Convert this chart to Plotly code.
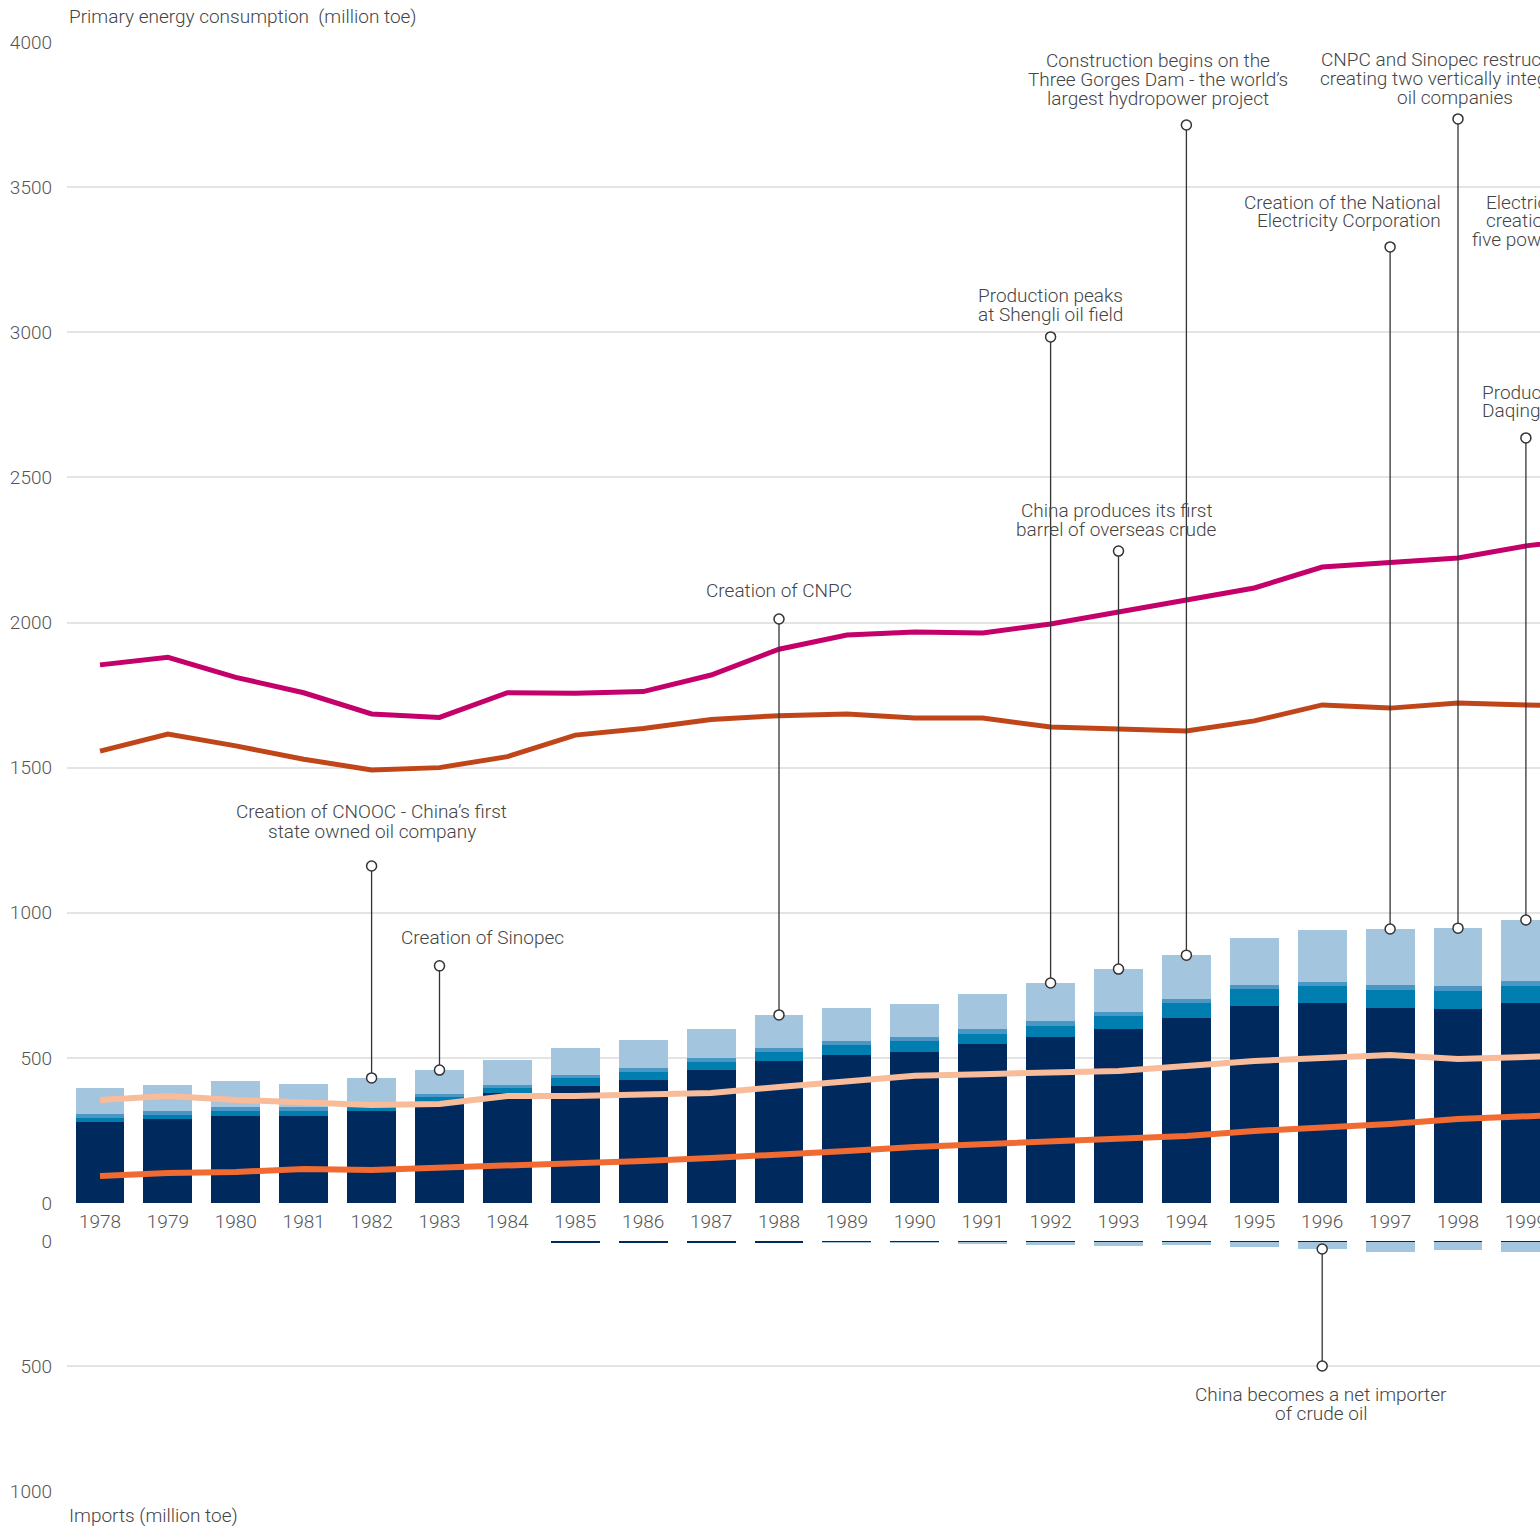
import plotly.graph_objects as go

# ---------------- data ----------------
years = list(range(1978, 2000))
coal = [279, 289, 300, 300, 317, 345, 379, 403, 424, 458, 489, 510, 520, 548, 573, 599, 637, 679, 689, 672, 668, 689]
hydro = [14, 14, 17, 17, 17, 20, 17, 28, 27, 28, 31, 34, 38, 34, 37, 45, 52, 58, 59, 62, 62, 59]
gas = [14, 14, 14, 14, 14, 11, 11, 10, 14, 14, 14, 14, 14, 17, 17, 14, 14, 14, 13, 17, 17, 17]
oil = [89, 90, 89, 79, 83, 82, 86, 93, 97, 100, 114, 114, 114, 121, 131, 148, 151, 162, 180, 193, 200, 210]

line_years = list(range(1978, 2001))
line_magenta = [1854, 1880, 1811, 1758, 1685, 1673, 1758, 1756, 1762, 1819, 1908, 1957, 1967, 1964, 1995, 2036, 2074, 2119, 2191, 2205, 2222, 2264, 2290]
line_rust = [1557, 1616, 1575, 1529, 1492, 1500, 1538, 1612, 1635, 1666, 1679, 1685, 1671, 1671, 1640, 1633, 1626, 1661, 1716, 1705, 1723, 1716, 1712]
line_peach = [355, 369, 355, 348, 338, 341, 369, 369, 372, 379, 400, 417, 438, 444, 451, 455, 472, 489, 500, 510, 496, 506, 510]
line_orange = [93, 103, 107, 117, 114, 121, 127, 134, 145, 155, 165, 179, 193, 203, 214, 220, 231, 248, 258, 272, 289, 300, 308]

imp_coal = [0, 0, 0, 0, 0, 0, 0, 5, 5, 5, 5, 5, 5, 5, 5, 5, 5, 5, 5, 5, 5, 5]
imp_oil = [0, 0, 0, 0, 0, 0, 0, 0, 0, 0, 0, 3, 3, 6, 11, 14, 11, 19, 27, 37, 31, 39]

top_ticks = [0, 500, 1000, 1500, 2000, 2500, 3000, 3500, 4000]
bottom_ticks = [0, 500, 1000]

# events: year, height of the upper pin end (in axis units), text lines
events = [
    (1982, 1161, ["Creation of CNOOC - China’s first", "state owned oil company"]),
    (1983, 817, ["Creation of Sinopec"]),
    (1988, 2012, ["Creation of CNPC"]),
    (1992, 2984, ["Production peaks", "at Shengli oil field"]),
    (1993, 2246, ["China produces its first", "barrel of overseas crude"]),
    (1994, 3714, ["Construction begins on the", "Three Gorges Dam - the world’s", "largest hydropower project"]),
    (1997, 3294, ["Creation of the National", "Electricity Corporation"]),
    (1998, 3735, ["CNPC and Sinopec restructuring", "creating two vertically integrated", "oil companies"]),
    (1999, 2636, ["Production peaks at", "Daqing oil field"]),
]
import_event = (1996, 500, ["China becomes a net importer", "of crude oil"])

# ---------------- styles / layout constants ----------------
W, H = 1540, 1526
L = 67
FONT = "Roboto"
TXT = "#444444"
GRID = "#e4e4e4"
C_COAL, C_HYDRO, C_GAS, C_OIL = "#00295e", "#007eb0", "#4a96c4", "#a3c5de"

# label placement: (x anchor, x shift px, first line offset px from pin top, spacing)
label_style = {
    1982: ("center", 0, -55, 20),
    1983: ("left", -41, -28, 19),
    1988: ("center", 0, -29, 19),
    1992: ("center", 0, -41, 19),
    1993: ("center", -2, -41, 19),
    1994: ("center", -28, -65, 19),
    1997: ("right", 53, -44, 18),
    1998: ("center", -3, -59, 19),
    1999: ("left", -46, -45, 18),
}

top_dom = [1 - 1203 / H, 1 - 42 / H]
bot_dom = [1 - 1491 / H, 1 - 1241 / H]
x_px0, x_step = 100, 67.9
xr = [1978 - (x_px0 - L) / x_step, 1978 + (W - x_px0) / x_step]

fig = go.Figure()

for vals, col in [(coal, C_COAL), (hydro, C_HYDRO), (gas, C_GAS), (oil, C_OIL)]:
    fig.add_trace(go.Bar(x=years, y=vals, marker=dict(color=col, line=dict(width=0)),
                         width=0.72, xaxis="x", yaxis="y", showlegend=False))

for vals, col in [(imp_coal, C_COAL), (imp_oil, C_OIL)]:
    fig.add_trace(go.Bar(x=years, y=vals, marker=dict(color=col, line=dict(width=0)),
                         width=0.72, xaxis="x2", yaxis="y2", showlegend=False))

for vals, col, w in [(line_magenta, "#c4006a", 5), (line_rust, "#c0461a", 5),
                     (line_peach, "#f8bc9a", 6), (line_orange, "#f06a32", 6)]:
    fig.add_trace(go.Scatter(x=line_years, y=vals, mode="lines",
                             line=dict(color=col, width=w), xaxis="x", yaxis="y",
                             showlegend=False))

totals = {y: c + h + g + o for y, c, h, g, o in zip(years, coal, hydro, gas, oil)}
imp_totals = {y: a + b for y, a, b in zip(years, imp_coal, imp_oil)}

pin_line = dict(color="#333333", width=1.3)
pin_marker = dict(symbol="circle", size=10, color="white", line=dict(color="#333333", width=1.5))

ann_font = dict(family=FONT, size=19, color=TXT, weight=300)

for yr, top, lines in events:
    fig.add_trace(go.Scatter(x=[yr, yr], y=[totals[yr], top], mode="lines+markers",
                             line=pin_line, marker=pin_marker, xaxis="x", yaxis="y",
                             showlegend=False, cliponaxis=False))
    xa, xs, off, sp = label_style[yr]
    for i, ln in enumerate(lines):
        fig.add_annotation(x=yr, y=top, xref="x", yref="y", text=ln, showarrow=False,
                           xanchor=xa, yanchor="middle", xshift=xs,
                           yshift=-(off + i * sp), font=ann_font)

yr, bot, lines = import_event
fig.add_trace(go.Scatter(x=[yr, yr], y=[imp_totals[yr], bot], mode="lines+markers",
                         line=pin_line, marker=pin_marker, xaxis="x2", yaxis="y2",
                         showlegend=False, cliponaxis=False))
for i, ln in enumerate(lines):
    fig.add_annotation(x=yr, y=bot, xref="x2", yref="y2", text=ln, showarrow=False,
                       xanchor="center", yanchor="middle", xshift=-1,
                       yshift=-(28 + i * 19), font=ann_font)

def px2paper_x(px):
    return (px - L) / (W - L)

def px2paper_y(py):
    return 1 - py / H

# event beyond the visible range (text partly visible at the right edge)
for txt, px, py in [("Electricity reform -", 1484, 203), ("creation of the", 1484, 221),
                    ("five power companies", 1470, 240)]:
    fig.add_annotation(x=px2paper_x(px), y=px2paper_y(py), xref="paper", yref="paper",
                       text=txt, showarrow=False, xanchor="left", yanchor="middle",
                       font=ann_font)

# axis titles
fig.add_annotation(x=0, y=px2paper_y(17), xref="paper", yref="paper",
                   text="Primary energy consumption\u00a0\u00a0(million toe)", showarrow=False,
                   xanchor="left", yanchor="middle", font=ann_font)
fig.add_annotation(x=0, y=px2paper_y(1515), xref="paper", yref="paper",
                   text="Imports (million toe)", showarrow=False,
                   xanchor="left", yanchor="middle", font=ann_font)

tick_font = dict(family=FONT, size=19, color="#555555", weight=300)

fig.update_layout(
    width=W, height=H,
    margin=dict(l=L, r=0, t=0, b=0, autoexpand=False),
    paper_bgcolor="white", plot_bgcolor="white",
    barmode="stack", bargap=0,
    showlegend=False,
    xaxis=dict(range=xr, domain=[0, 1], anchor="y", tickmode="array", tickvals=years,
               ticktext=[str(y) for y in years], showgrid=False, zeroline=False,
               showline=False, ticks="", tickfont=tick_font, ticklabelstandoff=5,
               automargin=False, ticklabeloverflow="allow"),
    yaxis=dict(range=[0, 4000], domain=top_dom, anchor="x", tickmode="array",
               tickvals=top_ticks, ticktext=[str(t) for t in top_ticks],
               showgrid=True, gridcolor=GRID, gridwidth=1.5, zeroline=False,
               showline=False, ticks="", tickfont=tick_font, ticklabelstandoff=14,
               automargin=False, ticklabeloverflow="allow"),
    xaxis2=dict(range=xr, domain=[0, 1], anchor="y2", matches="x", showticklabels=False,
                showgrid=False, zeroline=False, showline=False, ticks="", automargin=False),
    yaxis2=dict(range=[1000, 0], domain=bot_dom, anchor="x2", tickmode="array",
                tickvals=bottom_ticks, ticktext=[str(t) for t in bottom_ticks],
                showgrid=True, gridcolor=GRID, gridwidth=1.5, zeroline=False,
                showline=False, ticks="", tickfont=tick_font, ticklabelstandoff=14,
                automargin=False, ticklabeloverflow="allow"),
)

fig.write_html(
    "out.html",
    config={"displayModeBar": False},
    post_script="document.body.style.margin='0';document.body.style.overflow='hidden';",
)
